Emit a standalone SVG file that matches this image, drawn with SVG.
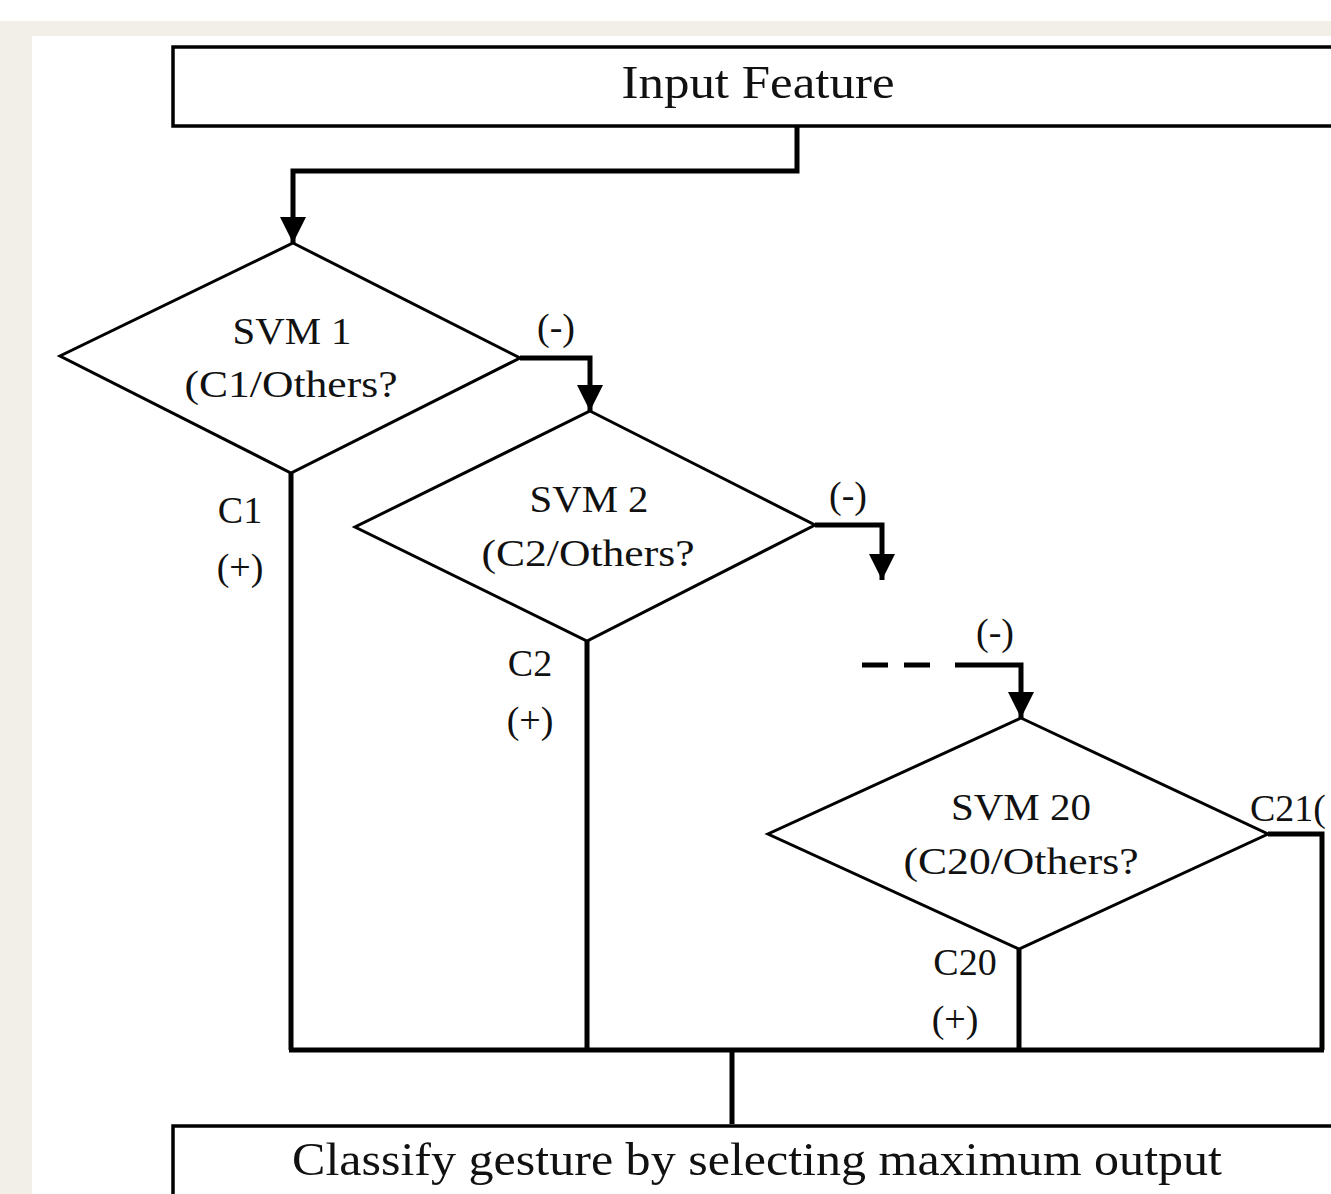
<svg xmlns="http://www.w3.org/2000/svg" width="1331" height="1194" viewBox="0 0 1331 1194">
<style>
.t{font-family:"Liberation Serif","Times New Roman",serif;fill:#111;text-anchor:middle}
.big{font-size:47px}
.mid{font-size:38px}
.box{fill:#fff;stroke:#000;stroke-width:3.5}
.dia{fill:#fff;stroke:#000;stroke-width:3}
.c{fill:none;stroke:#000;stroke-width:5}
</style>
<defs>
<marker id="ah" viewBox="0 0 10 10" refX="10" refY="5" markerUnits="userSpaceOnUse" markerWidth="28" markerHeight="26" orient="auto">
<path d="M0,0 L10,5 L0,10 Z" fill="#000"/>
</marker>
</defs>
<rect x="0" y="0" width="1331" height="1194" fill="#fff"/>
<rect x="0" y="21" width="1331" height="15" fill="#f2efe8"/>
<rect x="0" y="21" width="32" height="1173" fill="#f2efe8"/>

<g id="connectors">
<polyline class="c" points="797,126 797,171 293,171 293,243" marker-end="url(#ah)"/>
<polyline class="c" points="520,358 590,358 590,411" marker-end="url(#ah)"/>
<polyline class="c" points="815,525 882,525 882,580" marker-end="url(#ah)"/>
<line class="c" x1="862" y1="665" x2="944" y2="665" stroke-dasharray="26,16"/>
<polyline class="c" points="955,665 1021,665 1021,718" marker-end="url(#ah)"/>
<polyline class="c" points="1268,834 1322,834 1322,1050"/>
<line class="c" x1="291" y1="473" x2="291" y2="1050"/>
<line class="c" x1="587" y1="641" x2="587" y2="1050"/>
<line class="c" x1="1019" y1="949" x2="1019" y2="1050"/>
<line class="c" x1="289" y1="1050" x2="1324" y2="1050"/>
<line class="c" x1="732" y1="1050" x2="732" y2="1124"/>
<text class="t mid" x="556" y="340">(-)</text>
<text class="t mid" x="848" y="508">(-)</text>
<text class="t mid" x="995" y="645">(-)</text>
<text class="t mid" x="240" y="523">C1</text>
<text class="t mid" x="240" y="580">(+)</text>
<text class="t mid" x="530" y="676">C2</text>
<text class="t mid" x="530" y="733">(+)</text>
<text class="t mid" x="965" y="975">C20</text>
<text class="t mid" x="955" y="1032">(+)</text>
<text class="t mid" x="1250" y="821" style="text-anchor:start">C21(</text>
</g>

<g id="input">
<rect class="box" x="173" y="47" width="1180" height="79"/>
<text class="t big" x="758" y="98" textLength="273" lengthAdjust="spacingAndGlyphs">Input Feature</text>
</g>

<g id="svm1">
<polygon class="dia" points="293,243 520,358 291,473 60,356"/>
<text class="t mid" x="292" y="344" textLength="119" lengthAdjust="spacingAndGlyphs">SVM 1</text>
<text class="t mid" x="291" y="397" textLength="213" lengthAdjust="spacingAndGlyphs">(C1/Others?</text>
</g>

<g id="svm2">
<polygon class="dia" points="590,411 815,525 587,641 355,527"/>
<text class="t mid" x="589" y="512" textLength="119" lengthAdjust="spacingAndGlyphs">SVM 2</text>
<text class="t mid" x="588" y="566" textLength="213" lengthAdjust="spacingAndGlyphs">(C2/Others?</text>
</g>

<g id="svm20">
<polygon class="dia" points="1021,718 1268,834 1019,949 768,834"/>
<text class="t mid" x="1021" y="820" textLength="140" lengthAdjust="spacingAndGlyphs">SVM 20</text>
<text class="t mid" x="1021" y="874" textLength="235" lengthAdjust="spacingAndGlyphs">(C20/Others?</text>
</g>

<g id="classify">
<rect class="box" x="173" y="1126" width="1180" height="100"/>
<text class="t big" x="757" y="1175" textLength="930" lengthAdjust="spacingAndGlyphs">Classify gesture by selecting maximum output</text>
</g>
</svg>
